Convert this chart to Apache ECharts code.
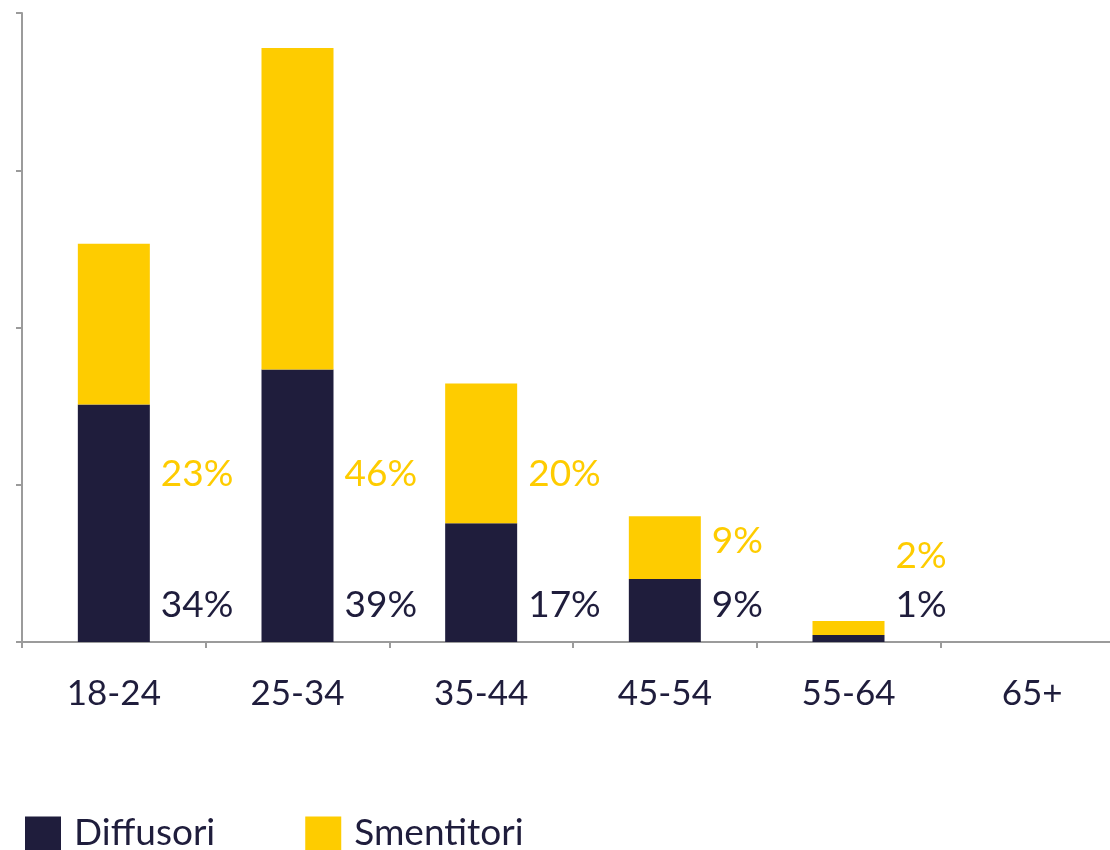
<!DOCTYPE html>
<html>
<head>
<meta charset="utf-8">
<script src="https://cdn.jsdelivr.net/npm/echarts@6/dist/echarts.min.js"></script>
<style>
  html, body { margin: 0; padding: 0; background: #fff; }
  #chart { width: 1110px; height: 850px; }
</style>
</head>
<body>
<div id="chart"></div>
<script>
// fasce d'età e percentuali
const categories = ["18-24", "25-34", "35-44", "45-54", "55-64", "65+"];
const diffusori = [34, 39, 17, 9, 1, 0];
const smentitori = [23, 46, 20, 9, 2, 0];

const navy = "#1f1d3c";
const yellow = "#fecc00";
const axisGrey = "#9b9b9b";
const font = "Lato";

// altezza (px sopra l'asse) delle etichette, come nell'originale
const diffLift = [37, 37, 37, 37, 37, 37];
const smentLift = [168, 168, 168, 101, 86, 86];

let chart = echarts.init(document.getElementById("chart"));

function sideLabel(lifts) {
  return function (params) {
    const base = chart.convertToPixel({ yAxisIndex: 0 }, 0);
    return {
      x: params.rect.x + params.rect.width + 11,
      y: base - lifts[params.dataIndex],
      align: "left",
      verticalAlign: "middle"
    };
  };
}

chart.setOption({
  animation: false,
  textStyle: { fontFamily: font },
  grid: {
    left: 22,
    top: 13,
    width: 1102,
    bottom: 208,
    outerBoundsMode: "none"
  },
  legend: {
    left: 20,
    top: 810,
    itemWidth: 36,
    itemHeight: 34,
    itemGap: 90,
    icon: "rect",
    textStyle: {
      fontFamily: font,
      fontSize: 37,
      color: navy,
      padding: [0, 0, 0, 8]
    },
    data: ["Diffusori", "Smentitori"]
  },
  xAxis: {
    type: "category",
    data: categories,
    axisLine: { lineStyle: { color: axisGrey, width: 2 } },
    axisTick: { show: true, length: 6, lineStyle: { color: axisGrey, width: 2 } },
    axisLabel: { fontFamily: font, fontSize: 35, color: navy, margin: 34 }
  },
  yAxis: {
    type: "value",
    min: 0,
    max: 90,
    interval: 22.5,
    axisLine: { show: true, lineStyle: { color: axisGrey, width: 2 } },
    axisTick: { show: true, length: 6, lineStyle: { color: axisGrey, width: 2 } },
    axisLabel: { show: false },
    splitLine: { show: false }
  },
  series: [
    {
      name: "Diffusori",
      type: "bar",
      stack: "tot",
      barWidth: 72,
      itemStyle: { color: navy },
      data: diffusori,
      label: {
        show: true,
        fontFamily: font,
        fontSize: 37,
        color: navy,
        formatter: p => p.value > 0 ? p.value + "%" : ""
      },
      labelLayout: sideLabel(diffLift)
    },
    {
      name: "Smentitori",
      type: "bar",
      stack: "tot",
      barWidth: 72,
      itemStyle: { color: yellow },
      data: smentitori,
      label: {
        show: true,
        fontFamily: font,
        fontSize: 37,
        color: yellow,
        formatter: p => p.value > 0 ? p.value + "%" : ""
      },
      labelLayout: sideLabel(smentLift)
    }
  ]
});
</script>
</body>
</html>
